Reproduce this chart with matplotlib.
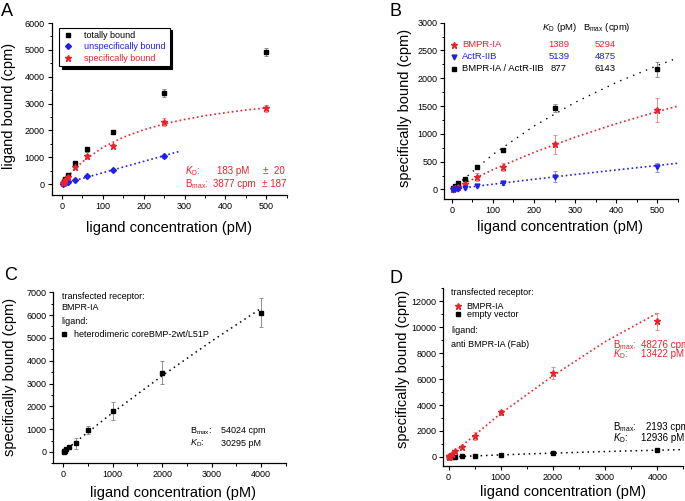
import numpy as np
import matplotlib
matplotlib.use("Agg")
import matplotlib.pyplot as plt
from matplotlib.ticker import MultipleLocator

plt.rcParams['font.family'] = ['Liberation Sans', 'DejaVu Sans']
plt.rcParams['mathtext.fontset'] = 'custom'
plt.rcParams['mathtext.rm'] = 'Liberation Sans'
plt.rcParams['mathtext.it'] = 'Liberation Sans:italic'

RED = '#e8232d'
BLUE = '#2020e8'
RED_ERR = '#f08a8a'
BLUE_ERR = '#8a8af0'
GRAY_ERR = '#909090'

# panel A
conc_a = [1.95, 3.9, 7.8, 15.6, 31.25, 62.5, 125, 250, 500]
a_total = [60, 110, 200, 350, 770, 1300, 1950, 3400, 4930]
a_total_err = [20, 20, 30, 40, 60, 100, 60, 150, 150]
conc_a_uns = [1.95, 3.9, 7.8, 15.6, 31.25, 62.5, 125, 250]
a_unspec = [15, 30, 50, 80, 140, 310, 540, 1030]
a_unspec_err = [5, 5, 10, 10, 20, 30, 30, 40]
a_spec = [40, 80, 150, 280, 640, 1030, 1420, 2330, 2820]
a_spec_err = [20, 30, 40, 50, 60, 100, 60, 150, 130]
a_fit_x = [0, 25, 50, 100, 150, 200, 250, 300, 350, 400, 450, 500]
a_fit_y = [0, 465, 830, 1370, 1745, 2025, 2240, 2410, 2550, 2660, 2760, 2840]
a_lin_x = [0, 290]
a_lin_y = [0, 1230]

# panel B
conc_b = [3.9, 7.8, 15.6, 31.25, 62.5, 125, 250, 500]
b_bmpr = [10, 30, 50, 100, 230, 400, 810, 1430]
b_bmpr_err = [10, 15, 20, 30, 70, 70, 170, 215]
b_actr = [-10, 5, 15, 30, 55, 115, 230, 400]
b_actr_err = [10, 10, 10, 15, 20, 30, 100, 80]
b_both = [25, 55, 110, 190, 410, 710, 1460, 2160]
b_both_err = [10, 15, 20, 30, 30, 30, 70, 140]
b_fit_x = [0, 100, 200, 300, 400, 500, 550]
b_bmpr_fit = [0, 355, 666, 940, 1183, 1400, 1500]
b_actr_fit = [0, 93, 182, 268, 350, 430, 471]
b_both_fit = [0, 628, 1140, 1566, 1924, 2230, 2368]
b_names = ['BMPR-IA', 'ActR-IIB', 'BMPR-IA / ActR-IIB']
b_kd = ['1389', '5139', '877']
b_bmax = ['5294', '4875', '6143']

# panel C
conc_cd = [7.8, 15.6, 31.25, 62.5, 125, 250, 500, 1000, 2000, 4000]
c_vals = [10, 30, 60, 130, 220, 380, 950, 1790, 3480, 6100]
c_err = [10, 15, 20, 30, 40, 230, 180, 400, 520, 630]
c_fit_x = [0, 1000, 2000, 3000, 4000]
c_fit_y = [0, 1725, 3340, 4860, 6300]

# panel D
d_red = [20, 50, 100, 200, 450, 760, 1630, 3450, 6450, 10450]
d_red_err = [10, 20, 30, 50, 80, 150, 300, 200, 450, 650]
d_black = [5, 10, 15, 20, 25, 40, 80, 150, 270, 530]
d_black_err = [5, 5, 5, 5, 10, 10, 20, 30, 40, 80]
d_red_fit_x = [0, 1000, 2000, 3000, 4000]
d_red_fit_y = [0, 3350, 6250, 8880, 11080]
d_blk_fit_x = [0, 1500, 3000, 4500]
d_blk_fit_y = [0, 228, 413, 566]

TS = 6.5
LS = 10.5

fig = plt.figure(figsize=(6.85, 5.01), dpi=100)


def style(ax, xlim, ylim, xmaj, ymaj, ylabel, xl_pos, yl_pos):
    for s in ['top', 'right']:
        ax.spines[s].set_visible(False)
    for s in ['left', 'bottom']:
        ax.spines[s].set_linewidth(0.9)
    ax.xaxis.set_major_locator(MultipleLocator(xmaj))
    ax.xaxis.set_minor_locator(MultipleLocator(xmaj / 2))
    ax.yaxis.set_major_locator(MultipleLocator(ymaj))
    ax.yaxis.set_minor_locator(MultipleLocator(ymaj / 2))
    ax.set_xlim(xlim)
    ax.set_ylim(ylim)
    ax.tick_params(which='major', direction='out', length=3, width=0.8, labelsize=TS, pad=2)
    ax.tick_params(which='minor', direction='out', length=1.8, width=0.7)
    ax.set_xlabel('ligand concentration (pM)', fontsize=LS)
    ax.set_ylabel(ylabel, fontsize=LS)
    ax.xaxis.set_label_coords(*xl_pos)
    ax.yaxis.set_label_coords(*yl_pos)


def pts(ax, x, y, err, marker, color, ecolor, ms):
    ax.errorbar(x, y, yerr=err, fmt=marker, color=color, ecolor=ecolor,
                ms=ms, elinewidth=0.7, capsize=1.5, capthick=0.7, mec=color, zorder=3)


# ---- A ----
axA = fig.add_axes([0.0755, 0.611, 0.343, 0.343])
axA.plot(a_fit_x, a_fit_y, ':', color=RED, lw=1.2)
axA.plot(a_lin_x, a_lin_y, ':', color=BLUE, lw=1.2)
pts(axA, conc_a, a_total, a_total_err, 's', 'black', GRAY_ERR, 3.2)
pts(axA, conc_a_uns, a_unspec, a_unspec_err, 'D', BLUE, BLUE_ERR, 3)
pts(axA, conc_a, a_spec, a_spec_err, '*', RED, RED_ERR, 5)
style(axA, (-25, 550), (-400, 6000), 100, 1000, 'ligand bound (cpm)', (0.5, -0.151), (-0.152, 0.52))
hA = [axA.plot([], [], 's', color='black', ms=3.2)[0],
      axA.plot([], [], 'D', color=BLUE, ms=3)[0],
      axA.plot([], [], '*', color=RED, ms=5)[0]]
legA = axA.legend(hA, ['totally bound', 'unspecifically bound', 'specifically bound'],
                  loc='upper left', bbox_to_anchor=(0.012, 1.0), fontsize=TS,
                  fancybox=False, edgecolor='black', framealpha=1,
                  shadow={'color': 'black', 'alpha': 1}, handlelength=1.2,
                  handletextpad=1.2, borderpad=0.4, labelspacing=0.25)
legA.get_frame().set_linewidth(0.8)
for t, c in zip(legA.get_texts(), ['black', BLUE, RED]):
    t.set_color(c)
axA.text(0.567, 0.14, r'$K_\mathrm{D}$:', color=RED, fontsize=7, transform=axA.transAxes, va='center')
axA.text(0.705, 0.14, '183 pM', color=RED, fontsize=7, transform=axA.transAxes, va='center')
axA.text(0.9, 0.14, u'\u00b1  20', color=RED, fontsize=7, transform=axA.transAxes, va='center')
axA.text(0.567, 0.064, r'B$_\mathrm{max}$:', color=RED, fontsize=7, transform=axA.transAxes, va='center')
axA.text(0.687, 0.064, '3877 cpm', color=RED, fontsize=7, transform=axA.transAxes, va='center')
axA.text(0.896, 0.064, u'\u00b1 187', color=RED, fontsize=7, transform=axA.transAxes, va='center')

# ---- B ----
axB = fig.add_axes([0.6486, 0.602, 0.3412, 0.3527])
axB.plot(b_fit_x, b_both_fit, linestyle=(0, (1, 4)), color='black', lw=1.0)
axB.plot(b_fit_x, b_bmpr_fit, ':', color=RED, lw=1.2)
axB.plot(b_fit_x, b_actr_fit, ':', color=BLUE, lw=1.2)
pts(axB, conc_b, b_both, b_both_err, 's', 'black', GRAY_ERR, 3.2)
pts(axB, conc_b, b_bmpr, b_bmpr_err, '*', RED, RED_ERR, 5)
pts(axB, conc_b, b_actr, b_actr_err, 'v', BLUE, BLUE_ERR, 3.5)
style(axB, (-18, 550), (-180, 3000), 100, 500, 'specifically bound (cpm)', (0.495, -0.117), (-0.138, 0.517))
b_colors = [RED, BLUE, 'black']
b_marks = [('*', 5), ('v', 3.5), ('s', 3.2)]
b_rows = [0.874, 0.808, 0.738]
for name, kd, bm, c, (m, ms), yy in zip(b_names, b_kd, b_bmax, b_colors, b_marks, b_rows):
    axB.plot([0.042], [yy], m, color=c, ms=ms, transform=axB.transAxes, clip_on=False)
    axB.text(0.075, yy, name, color=c, fontsize=TS + 0.3, transform=axB.transAxes, va='center')
    axB.text(0.491, yy, kd, color=c, fontsize=TS + 0.3, transform=axB.transAxes, va='center', ha='center')
    axB.text(0.688, yy, bm, color=c, fontsize=TS + 0.3, transform=axB.transAxes, va='center', ha='center')
axB.text(0.491, 0.974, r'$K_\mathrm{D}$ (pM)', fontsize=TS + 0.3, transform=axB.transAxes, va='center', ha='center')
axB.text(0.696, 0.974, r'B$_\mathrm{max}$ (cpm)', fontsize=TS + 0.3, transform=axB.transAxes, va='center', ha='center')

# ---- C ----
axC = fig.add_axes([0.0778, 0.0752, 0.3397, 0.3414])
axC.plot(c_fit_x, c_fit_y, linestyle=(0, (1, 2.5)), color='black', lw=1.1)
pts(axC, conc_cd, c_vals, c_err, 's', 'black', GRAY_ERR, 3.2)
style(axC, (-200, 4500), (-500, 7000), 1000, 1000, 'specifically bound (cpm)', (0.515, -0.133), (-0.156, 0.506))
axC.text(0.036, 0.974, 'transfected receptor:', fontsize=TS, transform=axC.transAxes, va='center')
axC.text(0.036, 0.912, 'BMPR-IA', fontsize=TS, transform=axC.transAxes, va='center')
axC.text(0.036, 0.832, 'ligand:', fontsize=TS, transform=axC.transAxes, va='center')
axC.plot([0.045], [0.754], 's', color='black', ms=3.2, transform=axC.transAxes)
axC.text(0.089, 0.754, 'heterodimeric coreBMP-2wt/L51P', fontsize=TS, transform=axC.transAxes, va='center')
axC.text(0.587, 0.189, r'B$_\mathrm{max}$:', fontsize=TS, transform=axC.transAxes, va='center')
axC.text(0.719, 0.189, '54024 cpm', fontsize=TS, transform=axC.transAxes, va='center')
axC.text(0.587, 0.117, r'$K_\mathrm{D}$:', fontsize=TS, transform=axC.transAxes, va='center')
axC.text(0.719, 0.117, '30295 pM', fontsize=TS, transform=axC.transAxes, va='center')

# ---- D ----
axD = fig.add_axes([0.6472, 0.0699, 0.3505, 0.3547])
axD.plot(d_red_fit_x, d_red_fit_y, ':', color=RED, lw=1.2)
axD.plot(d_blk_fit_x, d_blk_fit_y, linestyle=(0, (1, 2.5)), color='black', lw=1.1)
pts(axD, conc_cd, d_black, d_black_err, 's', 'black', GRAY_ERR, 3.2)
pts(axD, conc_cd, d_red, d_red_err, '*', RED, RED_ERR, 5)
style(axD, (-100, 4500), (-700, 13000), 1000, 2000, 'specifically bound (cpm)', (0.5, -0.107), (-0.139, 0.546))
axD.text(0.032, 0.975, 'transfected receptor:', fontsize=TS, transform=axD.transAxes, va='center')
axD.plot([0.06], [0.9], '*', color=RED, ms=5, transform=axD.transAxes)
axD.text(0.097, 0.9, 'BMPR-IA', fontsize=TS, transform=axD.transAxes, va='center')
axD.plot([0.06], [0.854], 's', color='black', ms=3.2, transform=axD.transAxes)
axD.text(0.097, 0.854, 'empty vector', fontsize=TS, transform=axD.transAxes, va='center')
axD.text(0.032, 0.765, 'ligand:', fontsize=TS, transform=axD.transAxes, va='center')
axD.text(0.032, 0.685, 'anti BMPR-IA (Fab)', fontsize=TS, transform=axD.transAxes, va='center')
axD.text(0.708, 0.681, r'B$_\mathrm{max}$:', color=RED, fontsize=TS + 0.5, transform=axD.transAxes, va='center')
axD.text(0.822, 0.681, '48276 cpm', color=RED, fontsize=TS + 0.5, transform=axD.transAxes, va='center')
axD.text(0.708, 0.629, r'$K_\mathrm{D}$:', color=RED, fontsize=TS + 0.5, transform=axD.transAxes, va='center')
axD.text(0.822, 0.629, '13422 pM', color=RED, fontsize=TS + 0.5, transform=axD.transAxes, va='center')
axD.text(0.708, 0.217, r'B$_\mathrm{max}$:', fontsize=TS + 0.5, transform=axD.transAxes, va='center')
axD.text(0.843, 0.217, '2193 cpm', fontsize=TS + 0.5, transform=axD.transAxes, va='center')
axD.text(0.708, 0.156, r'$K_\mathrm{D}$:', fontsize=TS + 0.5, transform=axD.transAxes, va='center')
axD.text(0.822, 0.156, '12936 pM', fontsize=TS + 0.5, transform=axD.transAxes, va='center')

# panel letters
fig.text(0.002, 0.995, 'A', fontsize=13, va='top')
fig.text(0.568, 0.995, 'B', fontsize=13, va='top')
fig.text(0.006, 0.468, 'C', fontsize=13, va='top')
fig.text(0.568, 0.462, 'D', fontsize=13, va='top')

fig.savefig('out.png', dpi=100)
